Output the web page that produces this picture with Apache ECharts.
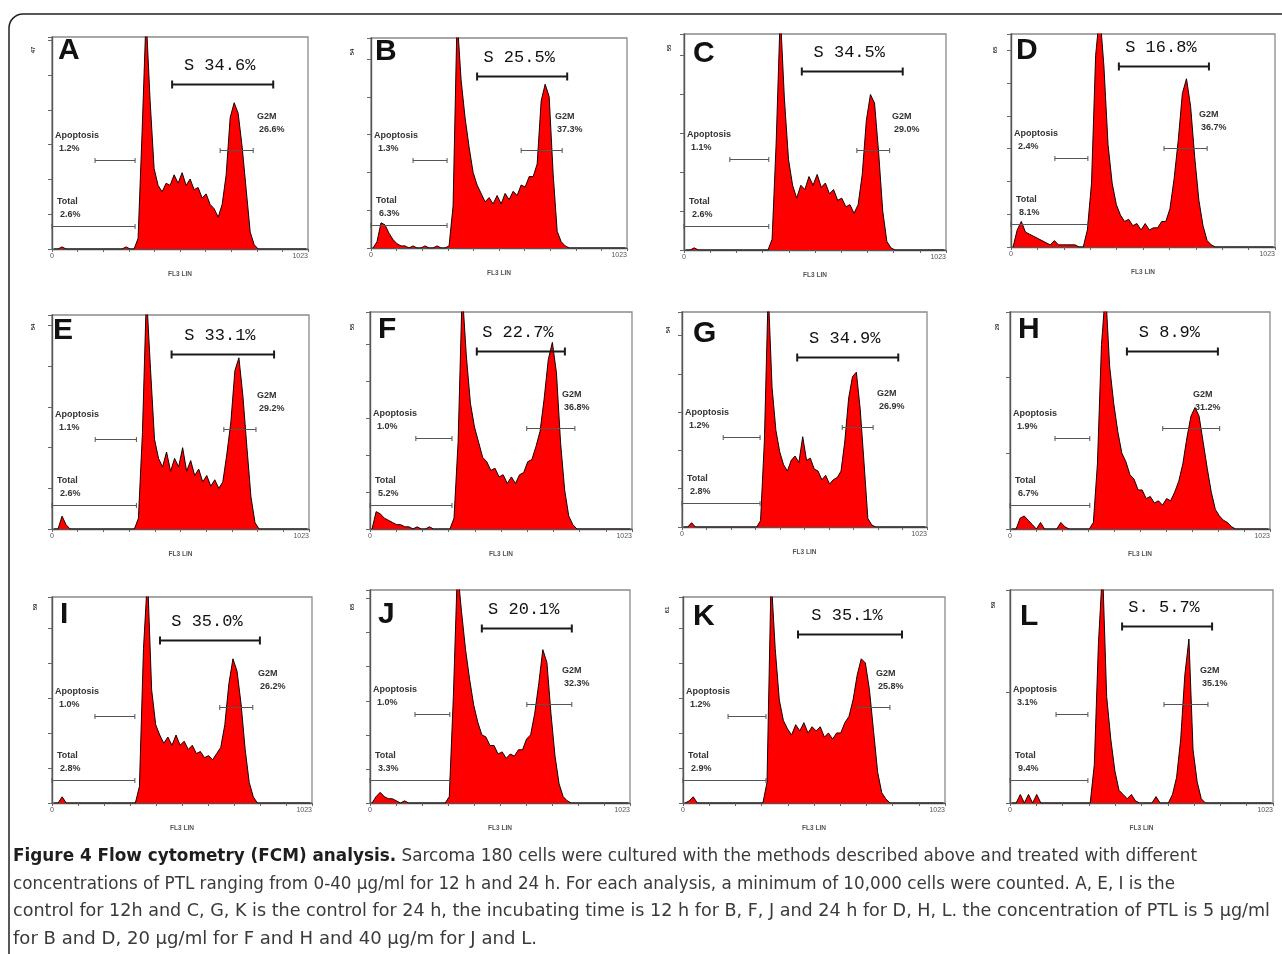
<!DOCTYPE html>
<html><head><meta charset="utf-8">
<script src="https://cdn.jsdelivr.net/npm/echarts/dist/echarts.min.js"></script>
<style>html,body{margin:0;padding:0;background:#fff;}#c{width:1282px;height:954px;}</style>
</head><body><div id="c"></div>
<script>
// ---------------- DATA ----------------
const panelLetters = ['A','B','C','D','E','F','G','H','I','J','K','L'];
const yTopLabels = ['47','54','55','65','54','55','54','29','59','65','61','59'];
// histogram counts in 64 bins of 16 channels (0..1023), as % of the panel's full scale
const histA = [0,0,1,0,0,0,0,0,0,0, 0,0,0,0,0,0,0,0,1,0, 0,5,55,110,70,38,30,27,31,30, 35,31,36,30,33,28,29,24,26,21, 19,15,21,35,62,69,64,48,28,8, 2,0,0,0,0,0,0,0,0,0, 0,0,0,0];
const histB = [0,3,12,11,7,4,2,1,1,0, 1,0,0,1,0,0,1,0,0,1, 20,110,80,62,48,36,30,26,22,24, 21,25,21,26,23,27,25,30,29,34, 34,40,70,78,72,35,8,3,1,0, 0,0,0,0,0,0,0,0,0,0, 0,0,0,0];
const histC = [0,0,1,0,0,0,0,0,0,0, 0,0,0,0,0,0,0,0,0,0, 0,5,50,110,70,42,30,24,30,28, 34,30,35,29,31,26,28,23,24,20, 21,17,21,35,60,72,68,45,18,4, 1,0,0,0,0,0,0,0,0,0, 0,0,0,0];
const histD = [0,8,12,7,6,5,4,3,2,1, 3,1,1,1,1,1,0,0,8,30, 90,110,85,48,30,20,15,12,13,10, 11,8,11,8,9,9,12,12,18,32, 50,72,79,66,42,22,10,3,1,0, 0,0,0,0,0,0,0,0,0,0, 0,0,0,0];
const histE = [0,0,6,2,0,0,0,0,0,0, 0,0,0,0,0,0,0,0,0,0, 0,5,45,110,75,42,33,29,36,27, 33,29,38,27,32,25,28,22,25,20, 23,19,22,35,50,74,80,62,38,15, 3,0,0,0,0,0,0,0,0,0, 0,0,0,0];
const histF = [0,8,7,5,4,3,2,2,1,1, 0,1,0,0,1,0,0,0,0,0, 5,40,110,80,58,47,40,33,31,27, 28,24,25,21,24,21,25,26,31,32, 38,45,60,78,86,72,40,18,6,2, 0,0,0,0,0,0,0,0,0,0, 0,0,0,0];
const histG = [0,0,2,0,0,0,0,0,0,0, 0,0,0,0,0,0,0,0,0,0, 3,40,110,65,45,35,29,26,31,33, 30,42,31,32,27,26,22,24,20,22, 23,26,40,60,70,72,55,30,4,1, 0,0,0,0,0,0,0,0,0,0, 0,0,0,0];
const histH = [0,0,5,6,4,2,0,3,0,0, 0,0,3,1,0,0,0,0,0,0, 3,30,85,110,75,58,45,35,31,25, 23,18,18,14,15,12,13,11,14,13, 17,22,30,42,52,56,52,40,28,17, 9,6,4,3,1,0,0,0,0,0, 0,0,0,0];
const histI = [0,0,3,0,0,0,0,0,0,0, 0,0,0,0,0,0,0,0,0,0, 0,8,75,110,55,38,33,29,32,28, 33,28,30,26,28,24,25,22,23,21, 24,27,38,58,70,64,48,26,10,3, 0,0,0,0,0,0,0,0,0,0, 0,0,0,0];
const histJ = [0,3,5,3,2,2,1,0,1,0, 0,0,0,0,0,0,0,0,0,3, 50,110,90,72,58,46,38,32,31,27, 27,23,24,21,23,22,25,25,30,32, 42,56,72,66,42,22,9,3,1,0, 0,0,0,0,0,0,0,0,0,0, 0,0,0,0];
const histK = [0,1,3,0,0,0,0,0,0,0, 0,0,0,0,0,0,0,0,0,0, 10,110,75,50,40,36,33,38,35,39, 34,37,35,37,32,34,31,34,34,39, 42,50,62,70,68,55,35,15,5,2, 0,0,0,0,0,0,0,0,0,0, 0,0,0,0];
const histL = [0,0,4,0,4,0,4,0,0,0, 0,0,0,0,0,0,0,0,0,0, 18,75,110,50,30,15,6,4,2,4, 1,0,0,0,0,3,0,0,0,4, 12,30,60,77,25,10,2,0,0,0, 0,0,0,0,0,0,0,0,0,0, 0,0,0,0];
const hists = [histA,histB,histC,histD,histE,histF,histG,histH,histI,histJ,histK,histL];
// gates (channel ranges)
const sGate = [[480,884],[424,784],[460,854],[418,767],[476,884],[417,761],[481,903],[460,818],[425,818],[440,794],[449,855],[436,786]];
const g2Gate = [[672,804],[600,764],[675,803],[593,760],[684,812],[612,800],[669,798],[601,825],[660,790],[617,794],[683,808],[599,770]];
const apoGate = [[172,332],[168,304],[179,331],[170,298],[172,336],[179,320],[172,326],[177,314],[169,326],[177,314],[176,324],[179,303]];
const totalGate = [332,304,331,298,336,320,326,314,326,314,324,303];
const sLabels = ['S 34.6%','S 25.5%','S 34.5%','S 16.8%','S 33.1%','S 22.7%','S 34.9%','S 8.9%','S 35.0%','S 20.1%','S 35.1%','S. 5.7%'];
const g2Pct = ['26.6%','37.3%','29.0%','36.7%','29.2%','36.8%','26.9%','31.2%','26.2%','32.3%','25.8%','35.1%'];
const apoPct = ['1.2%','1.3%','1.1%','2.4%','1.1%','1.0%','1.2%','1.9%','1.0%','1.0%','1.2%','3.1%'];
const totalPct = ['2.6%','6.3%','2.6%','8.1%','2.6%','5.2%','2.8%','6.7%','2.8%','3.3%','2.9%','9.4%'];
const captionLines = [
  ['Figure 4 Flow cytometry (FCM) analysis.', ' Sarcoma 180 cells were cultured with the methods described above and treated with different'],
  ['', 'concentrations of PTL ranging from 0-40 \u03bcg/ml for 12 h and 24 h. For each analysis, a minimum of 10,000 cells were counted. A, E, I is the'],
  ['', 'control for 12h and C, G, K is the control for 24 h, the incubating time is 12 h for B, F, J and 24 h for D, H, L. the concentration of PTL is 5 \u03bcg/ml'],
  ['', 'for B and D, 20 \u03bcg/ml for F and H and 40 \u03bcg/m for J and L.']
];

// ---------------- LAYOUT / STYLE ----------------
const boxes = [ // [left, top, right, bottom] of each plot frame
  [52,37,308,249],[371,38,627,248],[684,34,946,250],[1011,34,1275,247],
  [52,315,309,529],[370,312,632,529],[682,312,927,527],[1010,312,1270,529],
  [52,597,312,803],[370,590,630,803],[683,597,945,803],[1010,590,1273,803]
];
const yTickStep = [16.4,18,18,15.4,19,17,17.8,35,17,16,17,52];
const sLevel = [78,82,83,85,82,82,79,82,79,82,82,83];
const g2TextX = [257,555,892,1199,257,562,877,1193,258,562,876,1200];
const letterPos = [[58,51],[375,52],[693,54],[1016,51],[53,331],[378,330],[693,334],[1018,330],[60,615],[378,615],[693,617],[1020,617]];
const yLabelPos = [[33,50],[352,52],[669,48],[995,50],[33,327],[352,327],[668,330],[997,327],[35,607],[352,607],[667,610],[993,605]];
const captionTargetW = [1184,1162,1257,524];
const captionY = [857,885,912,940];
const CAP_FONT = '"Liberation Sans Narrow","DejaVu Sans Condensed","Arial Narrow",sans-serif';
const SMALL = 'bold 9px "Liberation Sans", Arial, sans-serif';

const chart = echarts.init(document.getElementById('c'), null, {renderer:'canvas'});
const grids=[], xAxes=[], yAxes=[], series=[], graphic=[];

boxes.forEach((b,k)=>{
  grids.push({left:b[0], top:b[1], width:b[2]-b[0], height:b[3]-b[1], show:true, borderColor:'#8a8a8a', borderWidth:1.3, containLabel:false});
  xAxes.push({gridIndex:k, type:'value', min:0, max:1023, interval:102.3,
    axisLine:{show:true, onZero:false, lineStyle:{color:'#555', width:1.4}},
    axisTick:{show:true, length:3, lineStyle:{color:'#666'}},
    splitLine:{show:false},
    axisLabel:{show:true, fontSize:7, color:'#555', margin:4, showMinLabel:true, showMaxLabel:true, alignMaxLabel:'right',
      formatter:v=> v===0 ? '0' : (v>1000 ? '1023' : '')},
    name:'FL3 LIN', nameLocation:'middle', nameGap:22, nameTextStyle:{fontSize:6.5, color:'#555', fontWeight:'bold'}});
  yAxes.push({gridIndex:k, type:'value', min:0, max:100, interval:yTickStep[k],
    axisLine:{show:true, lineStyle:{color:'#555', width:1.4}},
    axisTick:{show:true, length:4, lineStyle:{color:'#666'}},
    axisLabel:{show:false}, splitLine:{show:false}});
  const h = hists[k];
  series.push({type:'line', xAxisIndex:k, yAxisIndex:k, silent:true, animation:false, symbol:'none', clip:true,
    data:h.map((v,i)=>[(i+0.5)*1024/h.length, v]),
    lineStyle:{color:'#140000', width:1}, areaStyle:{color:'#ff0000', opacity:1}, z:2});
  series.push({type:'custom', xAxisIndex:k, yAxisIndex:k, silent:true, animation:false, clip:false, z:5,
    data:[[sGate[k][0], sGate[k][1], 0],[g2Gate[k][0], g2Gate[k][1], 1],[apoGate[k][0], apoGate[k][1], 2],[0, totalGate[k], 3]],
    renderItem:(params, api)=>{
      const kind = api.value(2);
      const lvl = kind===0 ? sLevel[k] : kind===1 ? 46.5 : kind===2 ? 42 : 11;
      const p1 = api.coord([api.value(0), lvl]);
      const p2 = api.coord([api.value(1), lvl]);
      const left = api.coord([0,0])[0];
      const y = Math.round(p1[1]) + 0.5;
      const isS = kind===0;
      const lw = isS ? 2 : 1;
      const cap = isS ? 4 : 2.5;
      const col = isS ? '#1a1a1a' : '#555';
      const ch = [
        {type:'line', shape:{x1:p1[0], y1:y, x2:p2[0], y2:y}, style:{stroke:col, lineWidth:lw}},
        {type:'line', shape:{x1:p1[0], y1:y-cap, x2:p1[0], y2:y+cap}, style:{stroke:col, lineWidth:lw}},
        {type:'line', shape:{x1:p2[0], y1:y-cap, x2:p2[0], y2:y+cap}, style:{stroke:col, lineWidth:lw}}
      ];
      const txt = (t,x,yy,font,fill,align)=>({type:'text', style:{text:t, x:x, y:yy, font:font, fill:fill, align:align||'left', verticalAlign:'middle'}});
      if (kind===0) ch.push(txt(sLabels[k], (p1[0]+p2[0])/2-3, y-19, '17px "Liberation Mono","DejaVu Sans Mono",monospace', '#111', 'center'));
      if (kind===1) { ch.push(txt('G2M', g2TextX[k], y-34, SMALL, '#333')); ch.push(txt(g2Pct[k], g2TextX[k]+2, y-21, SMALL, '#333')); }
      if (kind===2) { ch.push(txt('Apoptosis', left+3, y-25, SMALL, '#333')); ch.push(txt(apoPct[k], left+7, y-12, SMALL, '#333')); }
      if (kind===3) { ch.push(txt('Total', left+5, y-25, SMALL, '#333')); ch.push(txt(totalPct[k], left+8, y-12, SMALL, '#333')); }
      return {type:'group', children:ch};
    }});
  graphic.push({type:'text', x:letterPos[k][0], y:letterPos[k][1], silent:true,
    style:{text:panelLetters[k], font:'bold 30px "Liberation Sans", Arial, sans-serif', fill:'#111', align:'left', verticalAlign:'middle'}});
  graphic.push({type:'text', x:yLabelPos[k][0], y:yLabelPos[k][1], rotation:Math.PI/2, silent:true,
    style:{text:yTopLabels[k], font:'bold 6px "Liberation Sans", Arial, sans-serif', fill:'#333', align:'center', verticalAlign:'middle'}});
});

// outer frame
graphic.push({type:'rect', silent:true, shape:{x:9, y:14, width:1300, height:1000, r:14}, style:{fill:'none', stroke:'#222', lineWidth:1.5}});

// caption
const ctx = document.createElement('canvas').getContext('2d');
captionLines.forEach((ln,i)=>{
  ctx.font = 'bold 17px ' + CAP_FONT; const w1 = ctx.measureText(ln[0]).width;
  ctx.font = '17px ' + CAP_FONT; const w2 = ctx.measureText(ln[1]).width;
  const s = captionTargetW[i] / (w1 + w2);
  graphic.push({type:'text', x:13, y:captionY[i], scaleX:s, silent:true,
    style:{text:(ln[0] ? '{b|' + ln[0] + '}' : '') + ln[1],
      fontSize:17, fontFamily:CAP_FONT, fill:'#3a3a3a', verticalAlign:'middle', align:'left',
      rich:{b:{fontSize:17, fontFamily:CAP_FONT, fontWeight:'bold', fill:'#1e1e1e'}}}});
});

chart.setOption({animation:false, backgroundColor:'#fff', grid:grids, xAxis:xAxes, yAxis:yAxes, series:series, graphic:graphic});
</script></body></html>
